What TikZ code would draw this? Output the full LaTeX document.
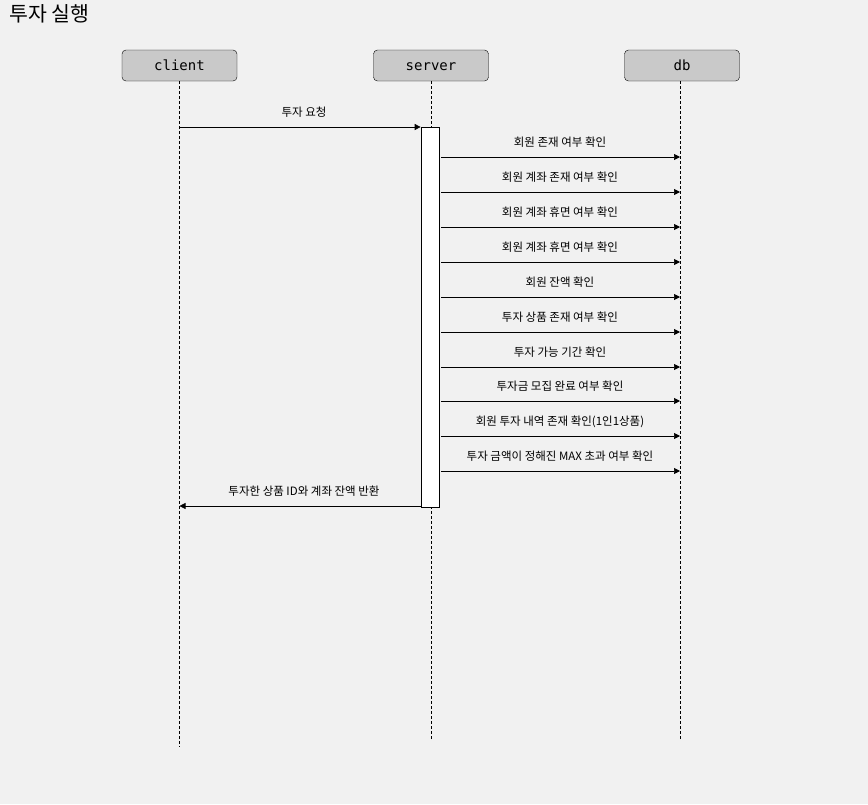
\documentclass[tikz,border=0pt]{standalone}
\usepackage{fontspec}
\setmainfont{Noto Sans CJK KR}
\newfontfamily\monofont{DejaVu Sans Mono}
\usetikzlibrary{arrows.meta}
\definecolor{bg}{HTML}{F1F1F1}
\definecolor{boxfill}{HTML}{C9C9C9}
\begin{document}
\begin{tikzpicture}[x=1pt,y=-1pt,
  actor/.style={draw=black,fill=boxfill,rounded corners=4pt,minimum width=115pt,minimum height=31pt,inner sep=0pt,text height=12pt,text depth=1.5pt,font=\monofont\fontsize{14}{16}\selectfont},
  life/.style={densely dashed,line width=0.6pt},
  msg/.style={-{Triangle[length=6pt,width=6pt]},line width=0.7pt},
  lbl/.style={font=\fontsize{11.5}{13}\selectfont,inner sep=0pt,anchor=base}]
\fill[bg] (0,0) rectangle (868,804);
\useasboundingbox (0,0) rectangle (868,804);
\node[anchor=base west,inner sep=0pt,font=\fontsize{20.5}{24}\selectfont] (title) at (9,21) {투자 실행};
\node[actor] (client) at (179.5,65.5) {client};
\node[actor] (server) at (431,65.5) {server};
\node[actor] (db) at (682,65.5) {db};
\coordinate (cEnd) at (179.5,747);
\coordinate (sEnd) at (431,740);
\coordinate (dEnd) at (680,740);
\draw[life] (client.south) -- (cEnd);
\draw[life] (server.south) -- (sEnd);
\draw[life] ([xshift=-2pt]db.south) -- (dEnd);
\node[draw=black,fill=white,line width=0.7pt,minimum width=18pt,minimum height=380pt,inner sep=0pt,anchor=north] (act) at (430,127) {};
% request
\coordinate (c1) at (179.5,127);
\draw[msg] (c1) -- (c1 -| act.west);
\node[lbl] (l0) at (304,116) {투자 요청};
% messages
\foreach \y/\t [count=\i] in {157/회원 존재 여부 확인,192/회원 계좌 존재 여부 확인,227/회원 계좌 휴면 여부 확인,262/회원 계좌 휴면 여부 확인,297/회원 잔액 확인,332/투자 상품 존재 여부 확인,367/투자 가능 기간 확인,401/투자금 모집 완료 여부 확인,436/회원 투자 내역 존재 확인(1인1상품),471/투자 금액이 정해진 MAX 초과 여부 확인}{
  \coordinate (m\i) at (441,\y);
  \coordinate (e\i) at (680,\y);
  \draw[msg] (m\i) -- (e\i);
  \node[lbl] (t\i) at (560,\y-11) {\t};
}
% return
\coordinate (r1) at (421,506);
\coordinate (r2) at (179.5,506);
\draw[msg] (act.south west |- r1) -- (r2);
\node[lbl] (lr) at (304,495) {투자한 상품 ID와 계좌 잔액 반환};
\end{tikzpicture}
\end{document}
